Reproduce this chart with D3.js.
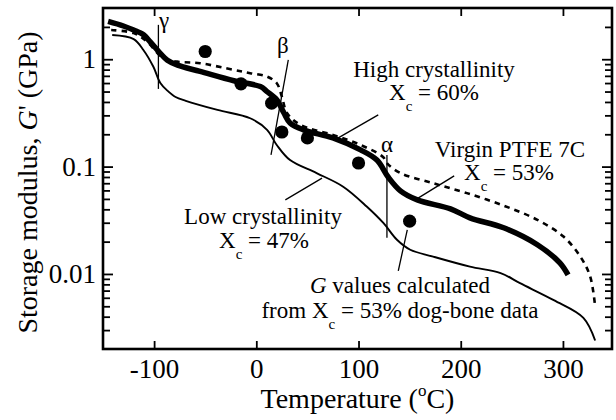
<!DOCTYPE html>
<html>
<head>
<meta charset="utf-8">
<script src="https://cdn.jsdelivr.net/npm/d3@7"></script>
<style>
  html, body { margin: 0; padding: 0; background: #fff; }
</style>
</head>
<body>
<svg id="chart" width="616" height="420"></svg>
<script>
// Storage modulus G' (GPa) versus temperature (°C) for PTFE 7C grades

// Virgin PTFE 7C, Xc = 53% (thick solid)
const virginT = [-145, -130, -120, -110, -104, -95.5, -87, -77, -55, -22, 4, 10.5, 20, 27, 33, 46, 75, 102, 118, 129, 141, 157.5, 190, 209, 242, 275, 297, 305];
const virginG = [2.25, 2.04, 1.87, 1.68, 1.46, 1.18, 0.98, 0.88, 0.77, 0.63, 0.556, 0.5, 0.42, 0.316, 0.255, 0.22, 0.185, 0.143, 0.115, 0.080, 0.0595, 0.049, 0.0404, 0.0333, 0.0269, 0.0187, 0.0127, 0.0098];

// High crystallinity, Xc = 60% (dashed)
const highT = [-142, -120, -107, -91, -77.6, -55, -22, -6, 10.5, 20, 25, 30, 43, 75, 102, 124, 128, 141, 173, 206, 242, 275, 300.5, 317, 326.6, 331.5];
const highG = [1.87, 1.75, 1.46, 1.02, 0.95, 0.918, 0.795, 0.741, 0.689, 0.598, 0.449, 0.316, 0.245, 0.197, 0.159, 0.123, 0.107, 0.087, 0.07, 0.0566, 0.0433, 0.0319, 0.0223, 0.0145, 0.0095, 0.005];

// Low crystallinity, Xc = 47% (thin solid)
const lowT = [-141, -120, -110.5, -100.7, -93.9, -87, -79, -69, -38, -6, 10.5, 20, 33, 59, 85, 108, 124.5, 137.6, 150.6, 173, 209, 239, 258, 291, 320, 331.5];
const lowG = [1.68, 1.54, 1.22, 0.85, 0.60, 0.51, 0.445, 0.41, 0.337, 0.282, 0.22, 0.159, 0.115, 0.087, 0.065, 0.0425, 0.0297, 0.0208, 0.0168, 0.0145, 0.0117, 0.0102, 0.0082, 0.0057, 0.0039, 0.0024];

// G values calculated from Xc = 53% dog-bone data (filled circles)
const dogboneT = [-50, -15, 15, 25, 50, 100, 150];
const dogboneG = [1.18, 0.59, 0.39, 0.21, 0.185, 0.108, 0.031];

// Axis ticks
const xTicks = [-100, 0, 100, 200, 300];
const yMajor = [0.01, 0.1, 1];
const yLabels = ["0.01", "0.1", "1"];
const yMinor = [0.003, 0.004, 0.005, 0.006, 0.007, 0.008, 0.009,
                0.02, 0.03, 0.04, 0.05, 0.06, 0.07, 0.08, 0.09,
                0.2, 0.3, 0.4, 0.5, 0.6, 0.7, 0.8, 0.9, 2];

// Pick the first installed Times-like face
function pickFont(candidates) {
  const ctx = document.createElement("canvas").getContext("2d");
  const probe = "mmmmmlliiWQ@#0123456789";
  const width = f => { ctx.font = "72px " + f; return ctx.measureText(probe).width; };
  const bases = ["monospace", "sans-serif"];
  const baseW = bases.map(width);
  for (const c of candidates) {
    if (bases.some((b, i) => Math.abs(width(`"${c}", ${b}`) - baseW[i]) > 0.5)) return `"${c}"`;
  }
  return "serif";
}
const FONT = pickFont(["Liberation Serif", "Tinos", "Times New Roman", "Times", "Nimbus Roman",
  "Nimbus Roman No9 L", "DejaVu Serif", "Noto Serif", "FreeSerif", "Noto Serif CJK SC",
  "Noto Serif CJK JP", "Source Serif Pro", "C059", "Georgia"]) + ", serif";

const svg = d3.select("#chart").attr("font-family", FONT);
const plotL = 103, plotR = 612, plotT = 8, plotB = 349;

const x = d3.scaleLinear().domain([-150, 348]).range([plotL, plotR]);
const y = d3.scaleLog().domain([0.002, 3]).range([plotB, plotT]);

const zip = (a, b) => a.map((v, i) => [v, b[i]]);
const line = d3.line().x(d => x(d[0])).y(d => y(d[1])).curve(d3.curveCatmullRom.alpha(0.5));

const plot = svg.append("g");
plot.append("clipPath").attr("id", "clip")
  .append("rect").attr("x", plotL).attr("y", plotT).attr("width", plotR - plotL).attr("height", plotB - plotT);
const curves = plot.append("g").attr("clip-path", "url(#clip)");

curves.append("path").datum(zip(lowT, lowG)).attr("d", line)
  .attr("fill", "none").attr("stroke", "#000").attr("stroke-width", 1.9);
curves.append("path").datum(zip(highT, highG)).attr("d", line)
  .attr("fill", "none").attr("stroke", "#000").attr("stroke-width", 2.6)
  .attr("stroke-dasharray", "5.5,5");
curves.append("path").datum(zip(virginT, virginG)).attr("d", line)
  .attr("fill", "none").attr("stroke", "#000").attr("stroke-width", 5.5);

curves.selectAll("circle.pt").data(zip(dogboneT, dogboneG)).join("circle")
  .attr("class", "pt")
  .attr("cx", d => x(d[0])).attr("cy", d => y(d[1])).attr("r", 6.6)
  .attr("fill", "#000");

// Relaxation markers and leader lines (data coordinates)
const seg = (t1, g1, t2, g2, w) => plot.append("line")
  .attr("x1", x(t1)).attr("y1", y(g1)).attr("x2", x(t2)).attr("y2", y(g2))
  .attr("stroke", "#000").attr("stroke-width", w || 1.3);
seg(-95.8, 2.09, -95.8, 0.529);       // gamma
seg(31.3, 0.985, 14.4, 0.1285);       // beta
seg(127.8, 0.1285, 127.8, 0.0217);    // alpha
seg(119.3, 0.303, 80.2, 0.185);       // high crystallinity leader
seg(193.6, 0.0819, 155.5, 0.049);     // virgin leader
seg(64.3, 0.078, 28.4, 0.049);        // low crystallinity leader
seg(147.7, 0.0257, 138.9, 0.0107);    // dog-bone leader

// Frame
plot.append("rect").attr("x", plotL).attr("y", plotT)
  .attr("width", plotR - plotL).attr("height", plotB - plotT)
  .attr("fill", "none").attr("stroke", "#000").attr("stroke-width", 2.6);

function styleAxis(g) {
  g.attr("font-family", FONT).attr("font-size", 27);
  g.select(".domain").remove();
  g.selectAll(".tick line").attr("stroke", "#000").attr("stroke-width", 1.8);
  g.selectAll("text").attr("fill", "#000");
}

// Bottom and top axes (ticks pointing inward)
svg.append("g").attr("transform", `translate(0,${plotB})`)
  .call(d3.axisBottom(x).tickValues(xTicks).tickSize(-8).tickPadding(10).tickFormat(d => d < 0 ? "-" + Math.abs(d) : d))
  .call(styleAxis)
  .selectAll("text").attr("dy", "0.71em");
svg.append("g").attr("transform", `translate(0,${plotT})`)
  .call(d3.axisTop(x).tickValues(xTicks).tickSize(-8).tickFormat(""))
  .call(styleAxis);

// Left and right axes, major and minor
svg.append("g").attr("transform", `translate(${plotL},0)`)
  .call(d3.axisLeft(y).tickValues(yMajor).tickSize(-10).tickPadding(7).tickFormat((d, i) => yLabels[i]))
  .call(styleAxis);
svg.append("g").attr("transform", `translate(${plotL},0)`)
  .call(d3.axisLeft(y).tickValues(yMinor).tickSize(-7).tickFormat(""))
  .call(styleAxis);
svg.append("g").attr("transform", `translate(${plotR},0)`)
  .call(d3.axisRight(y).tickValues(yMajor).tickSize(-10).tickFormat(""))
  .call(styleAxis);
svg.append("g").attr("transform", `translate(${plotR},0)`)
  .call(d3.axisRight(y).tickValues(yMinor).tickSize(-7).tickFormat(""))
  .call(styleAxis);

// Axis titles
const xt = svg.append("text").attr("x", (plotL + plotR) / 2).attr("y", 408)
  .attr("text-anchor", "middle").attr("font-size", 28);
xt.append("tspan").text("Temperature (");
xt.append("tspan").text("o").attr("font-size", 17).attr("dy", -12);
xt.append("tspan").text("C)").attr("dy", 12);

const yt = svg.append("text").attr("transform", `translate(37,${(plotT + plotB) / 2 + 4}) rotate(-90)`)
  .attr("text-anchor", "middle").attr("font-size", 28);
yt.append("tspan").text("Storage modulus, ");
yt.append("tspan").text("G").attr("font-style", "italic");
yt.append("tspan").text("' (GPa)");

// Annotations
const ann = svg.append("g").attr("font-size", 23);
ann.append("text").attr("x", 159).attr("y", 28).text("γ");
ann.append("text").attr("x", 277).attr("y", 53).text("β");
ann.append("text").attr("x", 381).attr("y", 152).text("α");

function xc(cx, cy, tail) {
  const t = ann.append("text").attr("x", cx).attr("y", cy).attr("text-anchor", "middle");
  if (tail.pre) t.append("tspan").text(tail.pre);
  t.append("tspan").text("X");
  t.append("tspan").text("c").attr("font-size", 15).attr("dy", 11);
  t.append("tspan").text(tail.post).attr("dy", -11);
  return t;
}

ann.append("text").attr("x", 434).attr("y", 77).attr("text-anchor", "middle").text("High crystallinity");
xc(434, 100, { post: " = 60%" });

ann.append("text").attr("x", 510).attr("y", 157).attr("text-anchor", "middle").text("Virgin PTFE 7C");
xc(509, 180, { post: " = 53%" });

ann.append("text").attr("x", 263).attr("y", 224).attr("text-anchor", "middle").text("Low crystallinity");
xc(264, 248, { post: " = 47%" });

const gv = ann.append("text").attr("x", 400).attr("y", 293).attr("text-anchor", "middle");
gv.append("tspan").text("G").attr("font-style", "italic");
gv.append("tspan").text(" values calculated");
xc(400, 318, { pre: "from ", post: " = 53% dog-bone data" });
</script>
</body>
</html>
